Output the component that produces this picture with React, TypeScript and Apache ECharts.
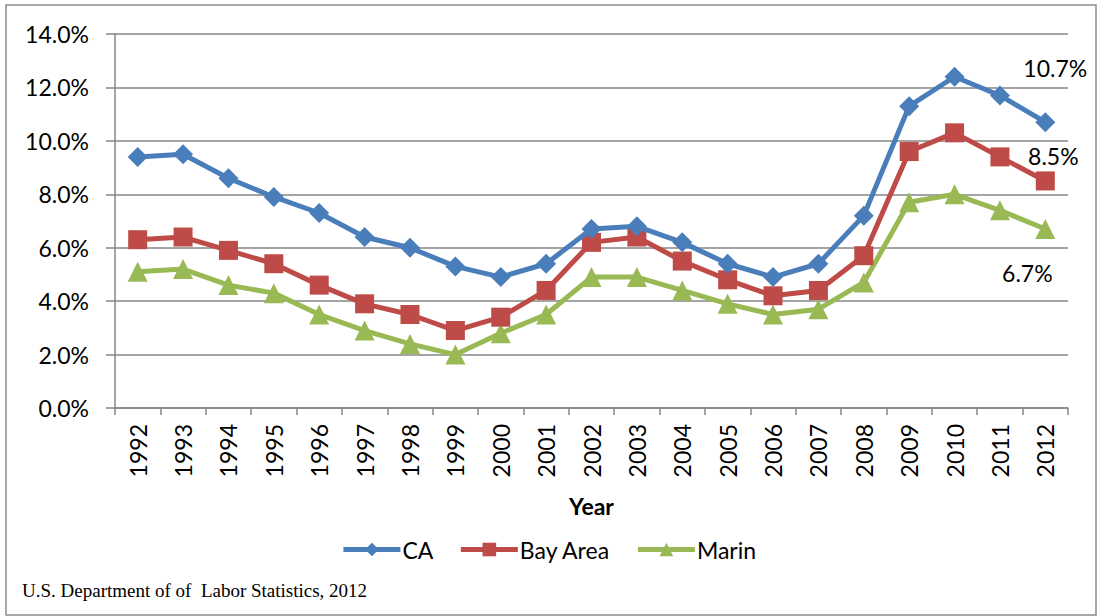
import React, { useEffect, useRef } from "react";
import * as echarts from "echarts";

const years = ["1992","1993","1994","1995","1996","1997","1998","1999","2000","2001","2002","2003","2004","2005","2006","2007","2008","2009","2010","2011","2012"];
const caValues = [9.4, 9.5, 8.6, 7.9, 7.3, 6.4, 6.0, 5.3, 4.9, 5.4, 6.7, 6.8, 6.2, 5.4, 4.9, 5.4, 7.2, 11.3, 12.4, 11.7, 10.7];
const bayValues = [6.3, 6.4, 5.9, 5.4, 4.6, 3.9, 3.5, 2.9, 3.4, 4.4, 6.2, 6.4, 5.5, 4.8, 4.2, 4.4, 5.7, 9.6, 10.3, 9.4, 8.5];
const marinValues = [5.1, 5.2, 4.6, 4.3, 3.5, 2.9, 2.4, 2.0, 2.8, 3.5, 4.9, 4.9, 4.4, 3.9, 3.5, 3.7, 4.7, 7.7, 8.0, 7.4, 6.7];
const seriesNames = ["CA", "Bay Area", "Marin"];
const colors = ["#4A7EBB", "#BE4B48", "#98B954"];
const sourceNote = "U.S. Department of of  Labor Statistics, 2012";

const FONT = "Lato, 'Open Sans', sans-serif";
const FS = 23;

function withEndLabel(values: number[], offset: [number, number]) {
  return values.map((v, i) =>
    i === values.length - 1
      ? {
          value: v,
          label: {
            show: true,
            formatter: v.toFixed(1) + "%",
            position: "inside",
            offset,
            color: "#000",
            fontSize: FS,
            fontFamily: FONT,
          },
        }
      : v
  );
}

export default function App() {
  const ref = useRef<HTMLDivElement>(null);
  useEffect(() => {
    document.body.style.margin = "0";
    if (!ref.current) return;
    const chart = echarts.init(ref.current, null, { renderer: "svg" });
    const lineStyleBase = { width: 5 };
    chart.setOption({
      animation: false,
      backgroundColor: "#fff",
      color: colors,
      grid: { left: 115, right: 29, top: 34, bottom: 208 },
      xAxis: {
        type: "category",
        data: years,
        boundaryGap: true,
        name: "Year",
        nameLocation: "middle",
        nameGap: 86,
        nameTextStyle: { fontSize: FS, fontWeight: "bold", color: "#000", fontFamily: FONT },
        axisLine: { lineStyle: { color: "#868686", width: 1.5 } },
        axisTick: { show: true, length: 7, alignWithLabel: false, lineStyle: { color: "#868686", width: 1.5 } },
        axisLabel: { rotate: 90, margin: 16, fontSize: FS, color: "#000", fontFamily: FONT, interval: 0 },
        splitLine: { show: false },
      },
      yAxis: {
        type: "value",
        min: 0,
        max: 14,
        interval: 2,
        axisLine: { show: true, lineStyle: { color: "#868686", width: 1.5 } },
        axisTick: { show: true, length: 9, lineStyle: { color: "#868686", width: 1.5 } },
        axisLabel: {
          margin: 26,
          fontSize: FS,
          color: "#000",
          fontFamily: FONT,
          formatter: (v: number) => v.toFixed(1) + "%",
        },
        splitLine: { show: true, lineStyle: { color: "#868686", width: 1.5 } },
      },
      legend: {
        data: seriesNames,
        top: 533,
        left: "center",
        itemWidth: 57,
        itemHeight: 17,
        itemGap: 25,
        lineStyle: { width: 5 },
        textStyle: { fontSize: FS, color: "#000", fontFamily: FONT, padding: [0, 0, 0, -3] },
      },
      graphic: [
        {
          type: "rect",
          shape: { x: 6, y: 5, width: 1090, height: 610 },
          style: { fill: "none", stroke: "#8c8c8c", lineWidth: 1.5 },
          silent: true,
        },
        {
          type: "text",
          left: 22,
          top: 581,
          style: { text: sourceNote, font: "19px 'Liberation Serif', 'Times New Roman', serif", fill: "#000" },
        },
      ],
      series: [
        {
          name: seriesNames[0],
          type: "line",
          data: withEndLabel(caValues, [10, -54]),
          symbol: "diamond",
          symbolSize: 20,
          lineStyle: { ...lineStyleBase, color: colors[0] },
          itemStyle: { color: colors[0] },
          z: 4,
        },
        {
          name: seriesNames[1],
          type: "line",
          data: withEndLabel(bayValues, [8, -25]),
          symbol: "rect",
          symbolSize: 19,
          lineStyle: { ...lineStyleBase, color: colors[1] },
          itemStyle: { color: colors[1] },
          z: 3,
        },
        {
          name: seriesNames[2],
          type: "line",
          data: withEndLabel(marinValues, [-18, 44]),
          symbol: "triangle",
          symbolSize: 20,
          lineStyle: { ...lineStyleBase, color: colors[2] },
          itemStyle: { color: colors[2] },
          z: 2,
        },
      ],
    });
    return () => chart.dispose();
  }, []);
  return <div ref={ref} style={{ width: 1097, height: 616 }} />;
}
